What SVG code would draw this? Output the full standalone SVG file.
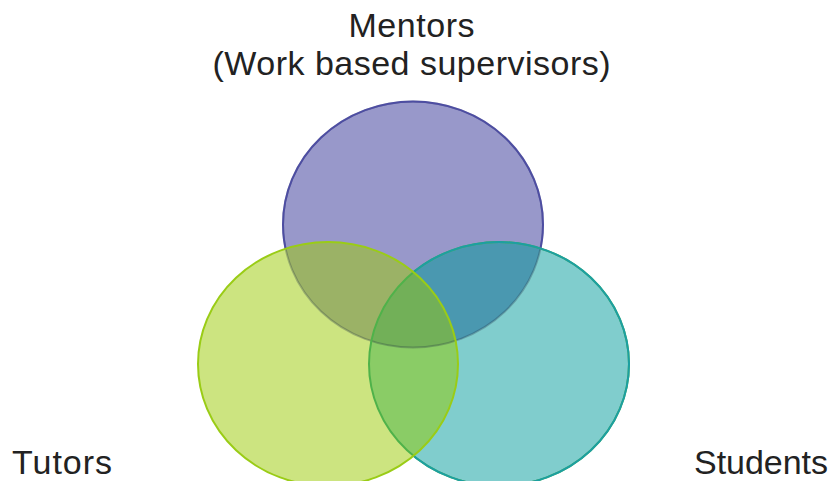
<svg xmlns="http://www.w3.org/2000/svg" width="831" height="481" viewBox="0 0 831 481">
<style>
.lbl{font-family:"Liberation Sans",Arial,sans-serif;font-size:34px;fill:#222}
</style>
<defs>
<ellipse id="eP" cx="413" cy="224.5" rx="130" ry="123"/>
<ellipse id="eG" cx="328" cy="364" rx="130" ry="122"/>
<ellipse id="eT" cx="499" cy="364" rx="130" ry="122"/>
<clipPath id="cP"><use href="#eP"/></clipPath>
<clipPath id="cG"><use href="#eG"/></clipPath>
<mask id="mOutGT" maskUnits="userSpaceOnUse" x="0" y="0" width="831" height="481">
<rect width="831" height="481" fill="#fff"/>
<use href="#eG" fill="#000"/>
<use href="#eT" fill="#000"/>
</mask>
<mask id="mOutG" maskUnits="userSpaceOnUse" x="0" y="0" width="831" height="481">
<rect width="831" height="481" fill="#fff"/>
<use href="#eG" fill="#000"/>
</mask>
</defs>
<rect width="831" height="481" fill="#fff"/>
<g id="mentors">
<use href="#eP" fill="#9898ca"/>
</g>
<g id="tutors">
<use href="#eG" fill="#cce480"/>
</g>
<g id="students">
<use href="#eT" fill="#80cdcd"/>
</g>
<g id="overlaps">
<use href="#eG" fill="#9bb266" clip-path="url(#cP)"/>
<use href="#eT" fill="#4a98b0" clip-path="url(#cP)"/>
<use href="#eT" fill="#8acc66" clip-path="url(#cG)"/>
<g clip-path="url(#cP)"><use href="#eT" fill="#72b058" clip-path="url(#cG)"/></g>
</g>
<g id="outlines" fill="none" stroke-width="2">
<use href="#eP" stroke="#1e2a40" stroke-opacity="0.28"/>
<use href="#eP" stroke="#4d4da2" mask="url(#mOutGT)"/>
<use href="#eT" stroke="#4fb24a"/>
<use href="#eT" stroke="#1c9fa2" mask="url(#mOutG)"/>
<use href="#eG" stroke="#9acc16"/>
</g>
<g id="labels">
<text class="lbl" x="411.5" y="37" text-anchor="middle" textLength="126">Mentors</text>
<text class="lbl" x="411.5" y="75" text-anchor="middle" textLength="398">(Work based supervisors)</text>
<text class="lbl" x="12" y="474" textLength="100">Tutors</text>
<text class="lbl" x="694" y="474" textLength="134">Students</text>
</g>
</svg>
